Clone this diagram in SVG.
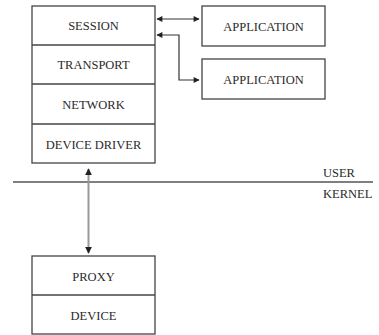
<svg xmlns="http://www.w3.org/2000/svg" width="379" height="335" viewBox="0 0 379 335">
<style>
.box{fill:#fff;stroke:#444;stroke-width:1.3}
.div{stroke:#444;stroke-width:1.3}
text{font-size:12.5px;fill:#2a2a2a;text-anchor:middle}
.lbl{text-anchor:start}
.conn{fill:none;stroke:#333;stroke-width:1.2}
.gray{fill:none;stroke:#999;stroke-width:2}
</style>
<defs>
<marker id="ah" viewBox="0 0 10 10" refX="9" refY="5" markerWidth="7" markerHeight="6" markerUnits="userSpaceOnUse" orient="auto-start-reverse">
<path d="M0,0 L10,5 L0,10 z" fill="#222"/>
</marker>
<marker id="ah2" viewBox="0 0 10 10" refX="9" refY="5" markerWidth="7" markerHeight="7" markerUnits="userSpaceOnUse" orient="auto-start-reverse">
<path d="M0,0 L10,5 L0,10 z" fill="#222"/>
</marker>
</defs>
<g font-family="'Liberation Serif', 'Times New Roman', serif">
<g id="stack">
<rect class="box" x="32" y="6" width="123" height="157"/>
<line class="div" x1="32" y1="45" x2="155" y2="45"/>
<line class="div" x1="32" y1="84" x2="155" y2="84"/>
<line class="div" x1="32" y1="124" x2="155" y2="124"/>
<text x="93.5" y="30">SESSION</text>
<text x="93.5" y="69">TRANSPORT</text>
<text x="93.5" y="109">NETWORK</text>
<text x="93.5" y="149">DEVICE DRIVER</text>
</g>
<g id="app1">
<rect class="box" x="202" y="6" width="123" height="40"/>
<text x="263.5" y="30.5">APPLICATION</text>
</g>
<g id="app2">
<rect class="box" x="202" y="59" width="123" height="40"/>
<text x="263.5" y="83.5">APPLICATION</text>
</g>
<g id="proxy">
<rect class="box" x="32" y="256" width="123" height="78"/>
<line class="div" x1="32" y1="295" x2="155" y2="295"/>
<text x="93.5" y="280.5">PROXY</text>
<text x="93.5" y="319.5">DEVICE</text>
</g>
<g id="boundary">
<line x1="13" y1="182" x2="373" y2="182" stroke="#555" stroke-width="1.3"/>
<text class="lbl" x="323" y="177">USER</text>
<text class="lbl" x="323" y="198">KERNEL</text>
</g>
</g>
<g id="connectors">
<line class="conn" x1="157" y1="19" x2="199" y2="19" marker-start="url(#ah)" marker-end="url(#ah)"/>
<path class="conn" d="M199,80 H179 V35 H157" marker-start="url(#ah)" marker-end="url(#ah)"/>
<line class="gray" x1="88.5" y1="169" x2="88.5" y2="253" marker-start="url(#ah2)" marker-end="url(#ah2)"/>
</g>
</svg>
